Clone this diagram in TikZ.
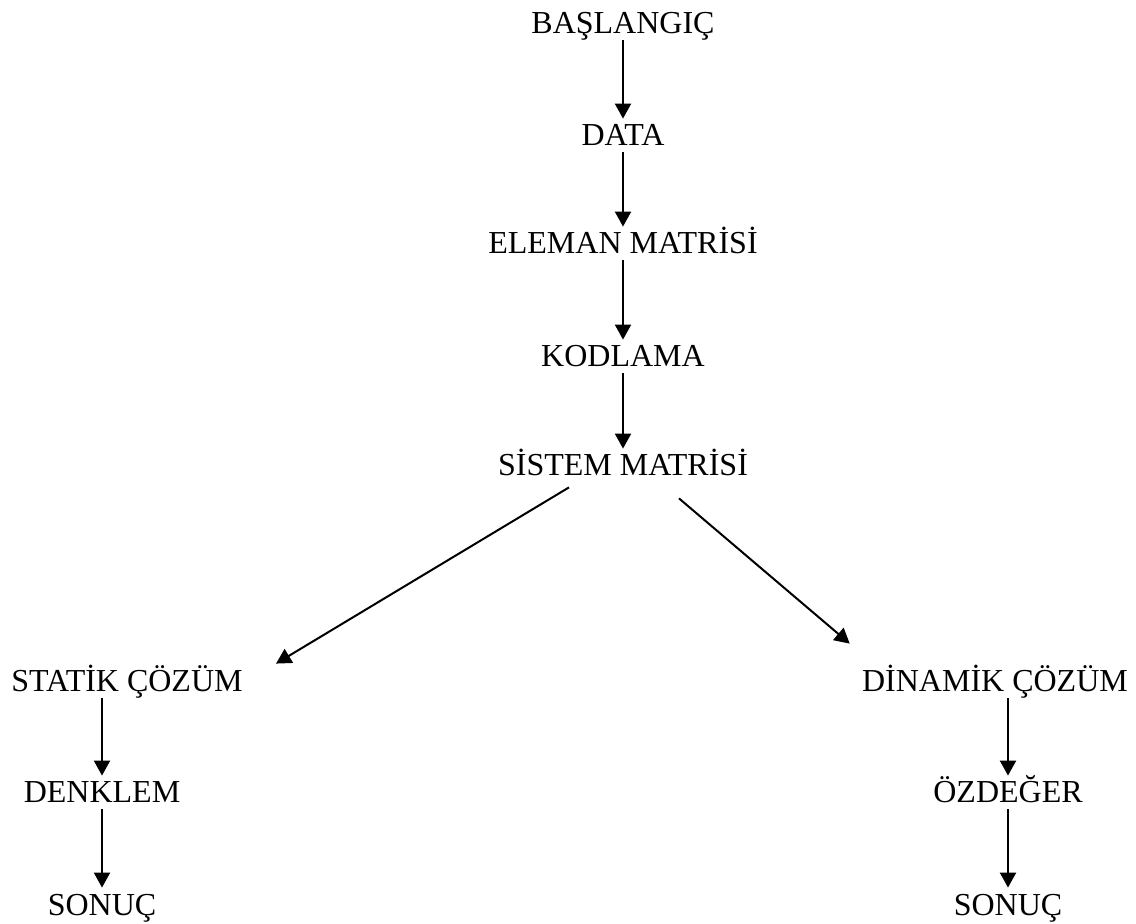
\documentclass[tikz,border=0pt]{standalone}
\usepackage{fontspec}
\setmainfont{Liberation Serif}
\usetikzlibrary{arrows.meta}

\begin{document}
\begin{tikzpicture}[x=0.5pt,y=-0.5pt]
        \useasboundingbox (0,0) rectangle (1136,924);
        \begin{scope}[every node/.style={anchor=base,inner sep=0pt,text height=13.5pt,text depth=3pt,font=\fontsize{16}{19}\selectfont}]
            \node (1) at (623, 34) {BAŞLANGIÇ};
            \node (2) at (623, 146) {DATA};
            \node (3) at (623, 254) {ELEMAN MATRİSİ};
            \node (4) at (623, 367) {KODLAMA};
            \node (5) at (623, 476) {SİSTEM MATRİSİ};
            \node (6) at (127, 692) {STATİK ÇÖZÜM};
            \node (7) at (102, 803) {DENKLEM};
            \node (8) at (102, 915) {SONUÇ};
            \node (9) at (995, 692) {DİNAMİK ÇÖZÜM};
            \node (10) at (1008, 803) {ÖZDEĞER};
            \node (11) at (1008, 915) {SONUÇ};
        \end{scope}
        \begin{scope}[every edge/.style={draw,line width=1pt,-{Triangle[length=7.5pt,width=8pt]}}]
            \path
                (1.south) edge (2.north)
                (2.south) edge (3.north)
                (3.south) edge (4.north)
                (4.south) edge (5.north)
                ([xshift=-27pt,yshift=-2.5pt]5.south) edge ([xshift=16.5pt,yshift=0.5pt]6.north east)
                ([xshift=28pt,yshift=-8pt]5.south) edge ([xshift=-6pt,yshift=10.5pt]9.north west)
                (6.south -| 7) edge (7.north)
                (7.south) edge (8.north)
                (9.south -| 10) edge (10.north)
                (10.south) edge (11.north);
        \end{scope}
    \end{tikzpicture}
\end{document}
